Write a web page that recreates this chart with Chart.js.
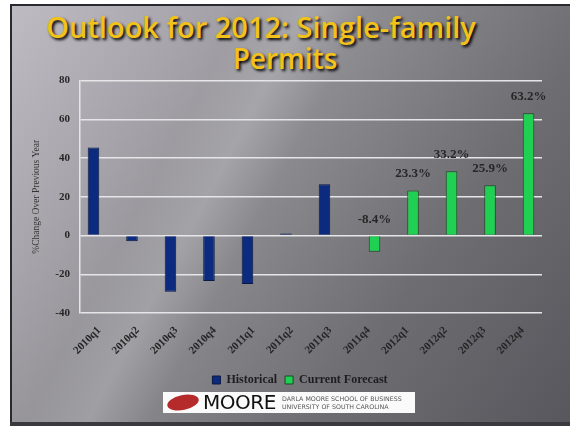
<!DOCTYPE html>
<html>
<head>
<meta charset="utf-8">
<script src="https://cdn.jsdelivr.net/npm/chart.js@4"></script>
<style>
    html, body { margin: 0; padding: 0; background: #fff; }
    #page { position: relative; width: 570px; height: 426px; overflow: hidden; background: #fff; }
    #slide {
        position: absolute; left: 10px; top: 4px; width: 560px; height: 418px;
        border-left: 2px solid #2a2a2e; border-top: 2px solid #2a2a2e;
        box-sizing: border-box;
        background:
            linear-gradient(118deg, rgba(255,255,255,0) 30%, rgba(255,255,255,0.16) 38%, rgba(255,255,255,0) 46%),
            linear-gradient(125deg, #bebcc2 0%, #a7a5ab 22%, #8b8a8f 45%, #6e6d72 70%, #58575d 100%);
    }
    #bottomBar { position: absolute; left: 10px; top: 422px; width: 560px; height: 4px; background: #3a393e; }
    .title {
        position: absolute; left: 0; width: 530px; text-align: center;
        font-family: "Open Sans", "DejaVu Sans", sans-serif; font-size: 28px; font-weight: 600;
        color: #f2c21a; text-shadow: 2px 2px 3px #000; white-space: nowrap; line-height: 1;
    }
    #chartBox { position: absolute; left: 10px; top: 64px; width: 556px; height: 332px; }
    #logo {
        position: absolute; left: 163px; top: 392px; width: 252px; height: 21px; background: #fafafa;
        font-family: "DejaVu Sans", sans-serif;
    }
    #logo .seal {
        position: absolute; left: 4px; top: 3px; width: 32px; height: 15px; border-radius: 50%;
        background: #b52a2a; transform: rotate(-12deg);
    }
    #logo .big { position: absolute; left: 40px; top: 0px; font-size: 20px; line-height: 21px; color: #111; letter-spacing: -0.5px; }
    #logo .small { position: absolute; left: 119px; top: 3px; font-size: 6.3px; line-height: 7.5px; color: #555; white-space: nowrap; }
</style>
</head>
<body>
<div id="page">
    <div id="slide"></div>
    <div id="bottomBar"></div>
    <div class="title" style="top: 12px; left: -4px; font-size: 29px;">Outlook for 2012: Single-family</div>
    <div class="title" style="top: 44px; left: 20px;">Permits</div>
    <div id="chartBox"><canvas id="chart"></canvas></div>
    <div id="logo">
        <div class="seal"></div>
        <div class="big">MOORE</div>
        <div class="small">DARLA MOORE SCHOOL OF BUSINESS<br>UNIVERSITY OF SOUTH CAROLINA</div>
    </div>
</div>
<script>
// Chart data
const quarters = ['2010q1', '2010q2', '2010q3', '2010q4', '2011q1', '2011q2',
                  '2011q3', '2011q4', '2012q1', '2012q2', '2012q3', '2012q4'];
const historical = [45.5, -3, -29, -23.5, -25, 1, 26.5, null, null, null, null, null];
const forecast = [null, null, null, null, null, null, null, -8.4, 23.3, 33.2, 25.9, 63.2];
const seriesNames = ['Historical', 'Current Forecast'];
const yTicks = [80, 60, 40, 20, 0, -20, -40];
const yTitle = '%Change Over Previous Year';

const serif = '"Liberation Serif", "DejaVu Serif", serif';

// Percent labels above the forecast bars
const barLabels = {
    id: 'barLabels',
    afterDatasetsDraw(chart) {
        const ctx = chart.ctx;
        const meta = chart.getDatasetMeta(1);
        ctx.save();
        ctx.font = 'bold 13px ' + serif;
        ctx.fillStyle = '#262626';
        ctx.textAlign = 'center';
        ctx.textBaseline = 'bottom';
        meta.data.forEach((bar, i) => {
            const v = forecast[i];
            if (v === null) return;
            const top = Math.min(bar.y, bar.base);
            ctx.fillText(v.toFixed(1) + '%', bar.x, top - 10);
        });
        ctx.restore();
    },
};

// Legend sits a bit right of the plot centre in the original slide
const shiftLegend = {
    id: 'shiftLegend',
    afterLayout(chart) {
        chart.legend.left += 24;
        chart.legend.right += 24;
    },
};

new Chart(document.getElementById('chart'), {
    type: 'bar',
    data: {
        labels: quarters,
        datasets: [{
            label: seriesNames[0],
            data: historical,
            backgroundColor: '#0c2a7e',
            borderColor: '#0a1a44',
            borderWidth: 1,
        }, {
            label: seriesNames[1],
            data: forecast,
            backgroundColor: '#1fd052',
            borderColor: '#1a4a22',
            borderWidth: 1,
        }],
    },
    options: {
        responsive: true,
        maintainAspectRatio: false,
        animation: false,
        categoryPercentage: 0.6,
        barPercentage: 1,
        layout: { padding: { top: 6, right: 24, bottom: 0, left: 0 } },
        plugins: {
            legend: {
                position: 'bottom',
                labels: {
                    font: { family: serif, size: 12, weight: 'bold' },
                    color: '#1e1e1e',
                    boxWidth: 8,
                    boxHeight: 8,
                    padding: 8,
                },
            },
            tooltip: { enabled: false },
        },
        scales: {
            x: {
                grid: { display: false, drawTicks: false },
                border: { display: false },
                ticks: {
                    minRotation: 45,
                    maxRotation: 45,
                    font: { family: serif, size: 11, weight: 'bold' },
                    color: '#262626',
                    padding: 11,
                },
                afterFit(scale) { scale.height = 53; },
            },
            y: {
                min: -40,
                max: 80,
                afterBuildTicks(scale) { scale.ticks = yTicks.map(v => ({ value: v })); },
                grid: { color: '#e6e6e8', lineWidth: 1.5, drawTicks: false },
                border: { color: '#e6e6e8', width: 1.5 },
                ticks: {
                    font: { family: serif, size: 11, weight: 'bold' },
                    color: '#262626',
                    padding: 10,
                },
                title: {
                    display: true,
                    text: yTitle,
                    font: { family: serif, size: 9.5 },
                    color: '#333',
                    padding: { top: 21, bottom: 0 },
                },
                afterFit(scale) { scale.width = 70; },
            },
        },
    },
    plugins: [barLabels, shiftLegend],
});
</script>
</body>
</html>
